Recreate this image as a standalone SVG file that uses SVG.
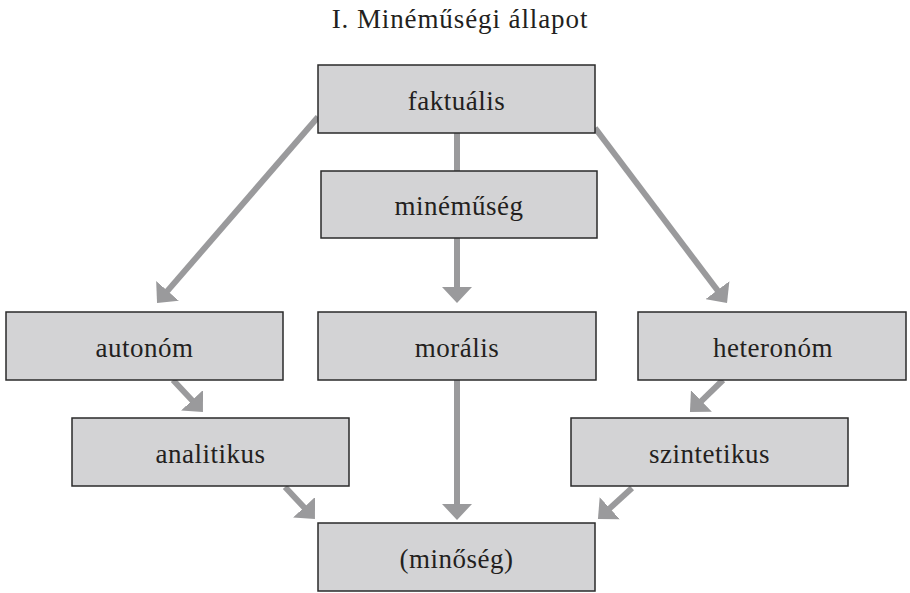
<svg xmlns="http://www.w3.org/2000/svg" width="910" height="593" viewBox="0 0 910 593">
  <style>
    .box { fill: #d3d3d5; stroke: #2a2a2a; stroke-width: 1.5; }
    .lbl { font-family: "Liberation Serif", "DejaVu Serif", serif; font-size: 27px; letter-spacing: 0.5px; fill: #231f20; text-anchor: middle; }
    .title { font-family: "Liberation Serif", "DejaVu Serif", serif; font-size: 27px; letter-spacing: 0.9px; fill: #231f20; text-anchor: middle; }
    .conn { stroke: #9a9a9c; stroke-width: 6; fill: none; }
    .arrow { marker-end: url(#head); }
  </style>
  <defs>
    <marker id="head" markerUnits="userSpaceOnUse" markerWidth="18" markerHeight="30" refX="2" refY="15" orient="auto">
      <path d="M0,0 L16,15 L0,30 z" fill="#9a9a9c"/>
    </marker>
  </defs>

  <text class="title" x="460" y="28">I. Minéműségi állapot</text>

  <g id="connectors">
    <line class="conn" x1="457" y1="133" x2="457" y2="171"/>
    <line class="conn arrow" x1="318" y1="117" x2="166.2" y2="292.4"/>
    <line class="conn arrow" x1="595" y1="128" x2="718.6" y2="291.8"/>
    <line class="conn arrow" x1="457" y1="238" x2="457" y2="289"/>
    <line class="conn arrow" x1="457" y1="380" x2="457" y2="506"/>
    <line class="conn arrow" x1="173" y1="380" x2="193.4" y2="401.8"/>
    <line class="conn arrow" x1="723" y1="380" x2="700" y2="402.3"/>
    <line class="conn arrow" x1="285" y1="487" x2="305.4" y2="508.8"/>
    <line class="conn arrow" x1="632" y1="488" x2="608.3" y2="509.6"/>
  </g>

  <g id="faktualis">
    <rect class="box" x="318" y="65" width="277" height="68"/>
    <text class="lbl" x="456.5" y="110">faktuális</text>
  </g>
  <g id="minemuseg">
    <rect class="box" x="321" y="171" width="276" height="67"/>
    <text class="lbl" x="459" y="215">minéműség</text>
  </g>
  <g id="autonom">
    <rect class="box" x="6" y="312" width="277" height="68"/>
    <text class="lbl" x="144.5" y="357">autonóm</text>
  </g>
  <g id="moralis">
    <rect class="box" x="318" y="312" width="278" height="68"/>
    <text class="lbl" x="457" y="357">morális</text>
  </g>
  <g id="heteronom">
    <rect class="box" x="638" y="312" width="268" height="68"/>
    <text class="lbl" x="773" y="357">heteronóm</text>
  </g>
  <g id="analitikus">
    <rect class="box" x="72" y="418" width="277" height="68"/>
    <text class="lbl" x="210.5" y="463">analitikus</text>
  </g>
  <g id="szintetikus">
    <rect class="box" x="571" y="418" width="277" height="68"/>
    <text class="lbl" x="709.5" y="463">szintetikus</text>
  </g>
  <g id="minoseg">
    <rect class="box" x="318" y="523" width="277" height="68"/>
    <text class="lbl" x="456.5" y="568">(minőség)</text>
  </g>
</svg>
